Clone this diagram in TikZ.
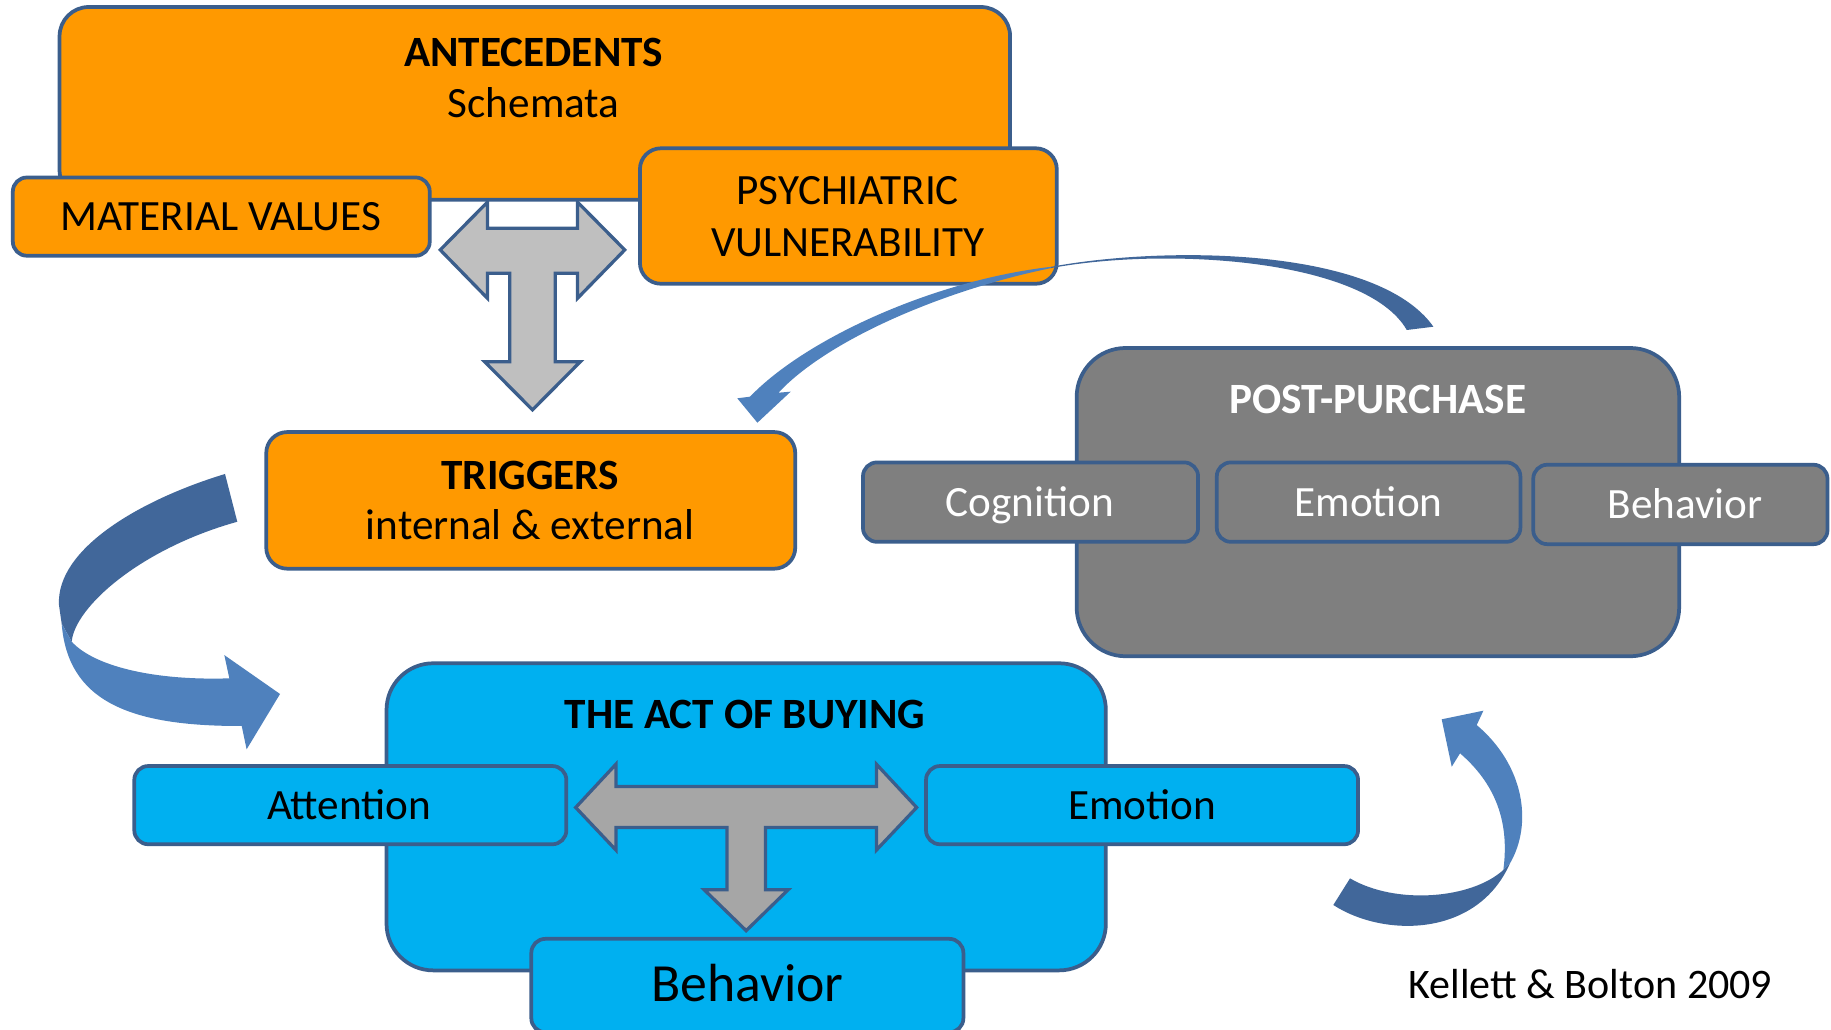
\documentclass[tikz,border=0pt]{standalone}
\usepackage{fontspec}
\setmainfont{Carlito}
\definecolor{orangefill}{HTML}{FF9900}
\definecolor{edgeblue}{HTML}{3B5E8C}
\definecolor{buyblue}{HTML}{00B0F0}
\definecolor{ppgray}{HTML}{7F7F7F}
\definecolor{arrowlight}{HTML}{BFBFBF}
\definecolor{arrowdark}{HTML}{A6A6A6}
\definecolor{curvedark}{HTML}{41679A}
\definecolor{curvelight}{HTML}{4F81BD}
\tikzset{
  box/.style={draw=edgeblue, line width=3.2pt, inner sep=0pt, rounded corners=#1},
  box/.default=12pt,
  lbl/.style={anchor=base, inner sep=0pt, font=\fontsize{37}{44}\selectfont},
  ttl/.style={anchor=base, inner sep=0pt, font=\fontsize{37}{44}\selectfont\bfseries},
  blockarrow/.style={draw=edgeblue, line width=2.8pt, line join=miter},
}
\begin{document}
\begin{tikzpicture}[x=1pt,y=-1pt]
\useasboundingbox (0,0) rectangle (1568,882);
\fill[white] (0,0) rectangle (1568,882);

% ---------- Antecedents ----------
\node[box=25pt, fill=orangefill, minimum width=814pt, minimum height=165pt] (ante) at (458,88.5) {};
\node[ttl] (tante) at (457,57) {ANTECEDENTS};
\node[lbl] (tschem) at (457,101) {Schemata};
\node[box=12pt, fill=orangefill, minimum width=357pt, minimum height=67pt] (matval) at (189.5,185.5) {};
\node[lbl] (tmatval) at (189,197) {MATERIAL VALUES};
\node[box=18pt, fill=orangefill, minimum width=357pt, minimum height=116pt] (psych) at (726.5,185) {};
\node[lbl] (tpsych1) at (726,175) {PSYCHIATRIC};
\node[lbl] (tpsych2) at (726,220) {VULNERABILITY};

% T arrow (antecedents -> triggers)
\draw[blockarrow, fill=arrowlight]
  (377,214) -- (417.5,173) -- (417.5,195.5) -- (494.5,195.5) -- (494.5,173) -- (535,214)
  -- (494.5,255.5) -- (494.5,234) -- (475.5,234) -- (475.5,309.7) -- (497,309.7)
  -- (456,351) -- (415,309.7) -- (436.5,309.7) -- (436.5,234) -- (417.5,234)
  -- (417.5,255.5) -- cycle;

% ---------- Triggers ----------
\node[box=18pt, fill=orangefill, minimum width=453pt, minimum height=117pt] (trig) at (454.5,428.5) {};
\node[ttl] (ttrig) at (454,419) {TRIGGERS};
\node[lbl] (ttrig2) at (454,462) {internal \& external};

% curved arrow post-purchase -> triggers
\fill[curvedark] (900,228.5) .. controls (1000,210) and (1180,212) .. (1227.5,279.8)
  -- (1204.7,282.6) .. controls (1170,222) and (1000,211) .. (900,229.6) -- cycle;
\fill[curvelight] (900,228.5) .. controls (800,240) and (690,290) .. (642.3,339.7)
  -- (631.4,341.1) -- (648.6,362) -- (677.1,335.4) -- (666.6,336.3)
  .. controls (710,290) and (810,248) .. (900,229.6) -- cycle;

% ---------- Post-purchase ----------
\node[box=42pt, fill=ppgray, minimum width=516pt, minimum height=264pt] (post) at (1180,430) {};
\node[ttl, text=white] (tpost) at (1180,354) {POST-PURCHASE};
\node[box=12pt, fill=ppgray, minimum width=287pt, minimum height=68pt] (pcog) at (882.5,430) {};
\node[lbl, text=white] (tpcog) at (882,442.5) {Cognition};
\node[box=12pt, fill=ppgray, minimum width=260pt, minimum height=68pt] (pemo) at (1172,430) {};
\node[lbl, text=white] (tpemo) at (1172,442.5) {Emotion};
\node[box=12pt, fill=ppgray, minimum width=252pt, minimum height=68pt] (pbeh) at (1439,432) {};
\node[lbl, text=white] (tpbeh) at (1443,444) {Behavior};

% ---------- Act of buying ----------
\node[box=40pt, fill=buyblue, minimum width=616pt, minimum height=263pt] (act) at (639,699.5) {};
\node[ttl] (tact) at (638,624) {THE ACT OF BUYING};
\node[box=12pt, fill=buyblue, minimum width=370pt, minimum height=67pt] (att) at (300,689.5) {};
\node[lbl] (tatt) at (299,702) {Attention};
\node[box=12pt, fill=buyblue, minimum width=370pt, minimum height=67pt] (emo) at (978,689.5) {};
\node[lbl] (temo) at (978,702) {Emotion};
\node[box=12pt, fill=buyblue, minimum width=370pt, minimum height=80pt] (beh) at (640,844) {};
\node[anchor=base, inner sep=0pt, font=\fontsize{46}{55}\selectfont] (tbeh) at (640,858) {Behavior};

% T arrow inside act of buying
\draw[blockarrow, fill=arrowdark]
  (493,691.5) -- (527.5,654.4) -- (527.5,673.6) -- (750.5,673.6) -- (750.5,654.4) -- (785,691.5)
  -- (750.5,728) -- (750.5,708.6) -- (655.5,708.6) -- (655.5,761.9) -- (675,761.9)
  -- (639,797) -- (603,761.9) -- (622.5,761.9) -- (622.5,708.6) -- (527.5,708.6)
  -- (527.5,728) -- cycle;

% curved arrow triggers -> act of buying (left)
\fill[curvedark] (192.7,405.9) .. controls (120,428) and (48,470) .. (50.5,518)
  -- (52.8,534) -- (61.4,549.5) .. controls (64,520) and (120,470) .. (203.2,446.8) -- cycle;
\fill[curvelight] (52.8,534) .. controls (58,600) and (110,622) .. (207,621.7)
  -- (211.2,641.7) -- (239.8,594.3) -- (192.1,561) -- (196.4,580.9)
  .. controls (130,583) and (80,570) .. (61.4,549.5) -- cycle;

% curved arrow act of buying -> post-purchase (right)
\fill[curvedark] (1141.8,775) .. controls (1185,803) and (1265,803) .. (1293.1,739.3)
  -- (1287.4,745) .. controls (1260,770) and (1195,775) .. (1156.1,752.2) -- cycle;
\fill[curvelight] (1293.1,739.3) .. controls (1313,705) and (1305,655) .. (1264.6,620.9)
  -- (1270.3,608.6) -- (1234.6,616) -- (1243.2,656.6) -- (1250.3,645.1)
  .. controls (1285,675) and (1292,710) .. (1287.4,745) -- cycle;

% citation
\node[anchor=base, inner sep=0pt, font=\fontsize{36}{43}\selectfont] (cite) at (1362,855) {Kellett \& Bolton 2009};
\end{tikzpicture}
\end{document}
